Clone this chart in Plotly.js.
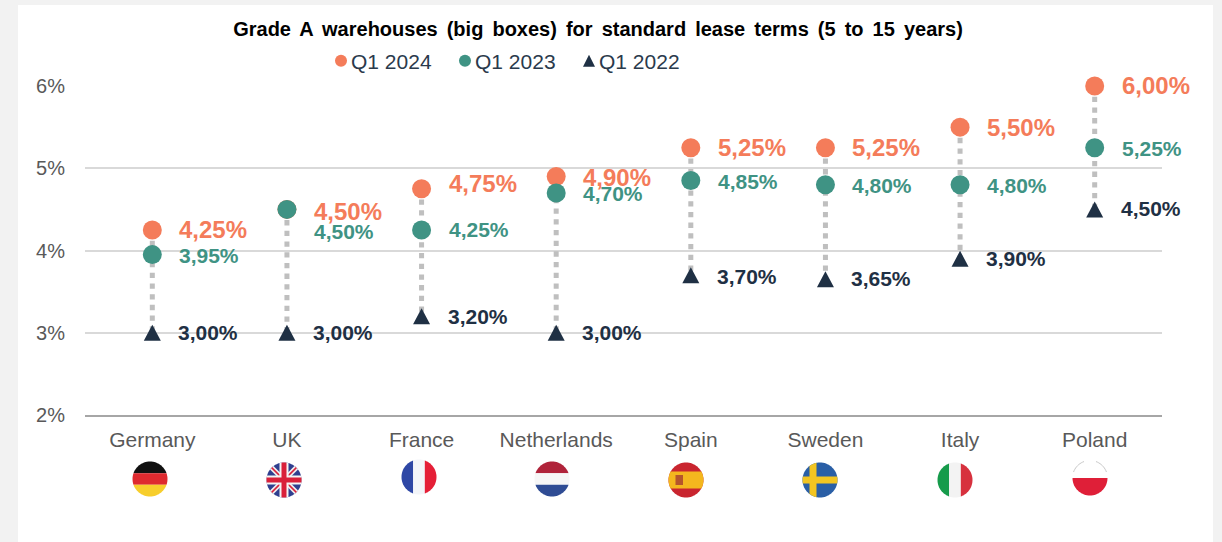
<!DOCTYPE html>
<html>
<head>
<meta charset="utf-8">
<script src="https://cdn.plot.ly/plotly-3.0.1.min.js"></script>
<style>html,body{margin:0;padding:0;background:#f2f2f2;overflow:hidden}</style>
</head>
<body>
<div id="chart" style="width:1222px;height:542px"></div>
<script>
var countries = ['Germany','UK','France','Netherlands','Spain','Sweden','Italy','Poland'];
var q1_2024 = [4.25,4.50,4.75,4.90,5.25,5.25,5.50,6.00];
var q1_2023 = [3.95,4.50,4.25,4.70,4.85,4.80,4.80,5.25];
var q1_2022 = [3.00,3.00,3.20,3.00,3.70,3.65,3.90,4.50];
var yTicks = [2,3,4,5,6];
var title = 'Grade A warehouses (big boxes) for standard lease terms (5 to 15 years)';

var ORANGE='#F47C5A', GREEN='#3F9384', NAVY='#1F3044', TICK='#595959';
var FONT='"Liberation Sans", Arial, sans-serif';
var plotL=85, plotW=1077, plotT=86, plotH=329;

function fmt(v){return v.toFixed(2).replace('.',',')+'%';}

var linkX=[], linkY=[];
countries.forEach(function(c,i){
  linkX.push(c,c,null);
  linkY.push(q1_2024[i],q1_2022[i],null);
});

var traces=[
 {type:'scatter',mode:'lines',x:linkX,y:linkY,showlegend:false,hoverinfo:'skip',cliponaxis:false,connectgaps:false,
  line:{color:'#BFBFBF',width:5,dash:'5.3px,5.4px'}},
 {type:'scatter',mode:'markers',name:'Q1 2024',x:countries,y:q1_2024,cliponaxis:false,
  marker:{symbol:'circle',size:19,color:ORANGE}},
 {type:'scatter',mode:'markers',name:'Q1 2023',x:countries,y:q1_2023,cliponaxis:false,
  marker:{symbol:'circle',size:19,color:GREEN}},
 {type:'scatter',mode:'markers',name:'Q1 2022',x:countries,y:q1_2022,cliponaxis:false,
  marker:{symbol:'triangle-up',size:18,color:NAVY}}
];

// label nudges in pixels relative to each marker
var dy2024=[0,-2,5,-1,0,0,0,1];
var dy2023=[-1,-22,0,-1,-1,-1,-1,-1];
var dy2022=[0,0,0,0,-1,1,0,1];

var annotations=[];
function addLabels(vals,dy,color,size,dx){
  vals.forEach(function(v,i){
    annotations.push({x:countries[i],y:v,xref:'x',yref:'y',text:fmt(v),showarrow:false,
      xanchor:'left',yanchor:'middle',xshift:dx,yshift:dy[i],borderpad:0,
      font:{family:FONT,size:size,color:color,weight:700}});
  });
}
addLabels(q1_2024,dy2024,ORANGE,24,26);
addLabels(q1_2023,dy2023,GREEN,21,26);
addLabels(q1_2022,dy2022,NAVY,21,25);

// circular flags: polygons clipped to a circle, drawn as paper-referenced shapes
var R=17.5;
var flagCx=[150,284,419,552,686,820,955,1090];
var flagCy=[479,480,477,479,480,480,480,478];
function circlePoly(cx,cy,r){
  var p=[];
  for(var k=0;k<72;k++){var a=k/72*2*Math.PI;p.push([cx+r*Math.cos(a),cy+r*Math.sin(a)]);}
  return p;
}
function clipPoly(subject,clipper){
  var out=subject;
  for(var i=0;i<clipper.length;i++){
    var A=clipper[i],B=clipper[(i+1)%clipper.length],input=out;out=[];
    var inside=function(P){return (B[0]-A[0])*(P[1]-A[1])-(B[1]-A[1])*(P[0]-A[0])>=0;};
    for(var j=0;j<input.length;j++){
      var P=input[j],Q=input[(j+1)%input.length],pi=inside(P),qi=inside(Q);
      if(pi)out.push(P);
      if(pi!==qi){
        var d1=(B[0]-A[0])*(P[1]-A[1])-(B[1]-A[1])*(P[0]-A[0]);
        var d2=(B[0]-A[0])*(Q[1]-A[1])-(B[1]-A[1])*(Q[0]-A[0]);
        var t=d1/(d1-d2);
        out.push([P[0]+t*(Q[0]-P[0]),P[1]+t*(Q[1]-P[1])]);
      }
    }
  }
  return out;
}
function fx(x){return (x-plotL)/plotW;}
function fy(y){return 1-(y-plotT)/plotH;}
function pathOf(pts,close){
  return pts.map(function(p,i){return (i?'L':'M')+fx(p[0]).toFixed(5)+','+fy(p[1]).toFixed(5);}).join(' ')+(close?' Z':'');
}
var flagShapes=[];
function poly(i,pts,color){
  var cx=flagCx[i],cy=flagCy[i];
  var abs=pts.map(function(p){return [cx+p[0],cy+p[1]];});
  var c=clipPoly(abs,circlePoly(cx,cy,R));
  if(c.length>2) flagShapes.push({type:'path',xref:'paper',yref:'paper',layer:'above',path:pathOf(c,true),fillcolor:color,line:{width:0}});
}
function rect(i,x0,y0,x1,y1,color){poly(i,[[x0,y0],[x1,y0],[x1,y1],[x0,y1]],color);}
function hBands(i,a,b,c){rect(i,-R,-R,R,-R/3,a);rect(i,-R,-R/3,R,R/3,b);rect(i,-R,R/3,R,R,c);}
function vBands(i,a,b,c){rect(i,-R,-R,-R/3,R,a);rect(i,-R/3,-R,R/3,R,b);rect(i,R/3,-R,R,R,c);}
function diag(i,w,color){
  var s=w/Math.SQRT2;
  poly(i,[[-R-s,-R],[-R,-R-s],[R+s,R],[R,R+s]],color);
  poly(i,[[R+s,-R],[R,-R-s],[-R-s,R],[-R,R+s]],color);
}
hBands(0,'#111111','#DE2A2F','#F7CE2C');
rect(1,-R,-R,R,R,'#2F3F8F');diag(1,5,'#F0F0F0');diag(1,1.5,'#D9203A');
rect(1,-4.5,-R,4.5,R,'#F5F5F5');rect(1,-R,-4.5,R,4.5,'#F5F5F5');
rect(1,-2.5,-R,2.5,R,'#D9203A');rect(1,-R,-2.5,R,2.5,'#D9203A');
vBands(2,'#2E47A5','#F3F5F9','#E51F37');
hBands(3,'#B0233A','#F6F6F6','#2F4C94');
rect(4,-R,-R,R,R,'#C9252F');rect(4,-R,-8.5,R,8.5,'#F4B71E');rect(4,-10.5,-5,-3,5,'#B5552C');
rect(5,-R,-R,R,R,'#2A5FA6');rect(5,-10.5,-R,-3.5,R,'#F3C521');rect(5,-R,-3.5,R,3.5,'#F3C521');
vBands(6,'#169B4B','#F3F3F3','#D7313E');
rect(7,-R,-R,R,0,'#FFFFFF');rect(7,-R,0,R,R,'#DF1F38');
[[200,250],[290,340]].forEach(function(arc){
  var pts=[];
  for(var d=arc[0];d<=arc[1];d+=5){var a=d*Math.PI/180;pts.push([flagCx[7]+R*Math.cos(a),flagCy[7]+R*Math.sin(a)]);}
  flagShapes.push({type:'path',xref:'paper',yref:'paper',layer:'above',path:pathOf(pts,false),line:{color:'#C8C8C8',width:1}});
});

var layout={
  width:1222,height:542,autosize:false,
  margin:{l:plotL,r:1222-plotL-plotW,t:plotT,b:542-plotT-plotH,pad:0,autoexpand:false},
  paper_bgcolor:'#F2F2F2',plot_bgcolor:'rgba(0,0,0,0)',
  font:{family:FONT},
  title:{text:'<b>'+title+'</b>',x:598/1222,xanchor:'center',y:1-29/542,yanchor:'middle',
    font:{family:FONT,size:20,color:'#000000'}},
  showlegend:true,
  legend:{orientation:'h',x:(311-plotL)/plotW,xanchor:'left',y:1+(86-61)/plotH,yanchor:'middle',
    bgcolor:'rgba(0,0,0,0)',itemsizing:'constant',entrywidth:79,entrywidthmode:'pixels',
    font:{family:FONT,size:21,color:'#2A3A4C'},itemclick:false,itemdoubleclick:false},
  xaxis:{type:'category',categoryorder:'array',categoryarray:countries,range:[-0.5,7.5],
    showgrid:false,zeroline:false,showline:true,linecolor:'#A6A6A6',linewidth:2,
    ticks:'outside',ticklen:5,tickcolor:'rgba(0,0,0,0)',
    tickfont:{family:FONT,size:21,color:TICK},fixedrange:true},
  yaxis:{range:[2,6],tickmode:'array',tickvals:yTicks,ticktext:yTicks.map(function(t){return t+'%';}),
    showgrid:true,gridcolor:'#D9D9D9',gridwidth:1.5,zeroline:false,showline:false,
    ticks:'outside',ticklen:15,tickcolor:'rgba(0,0,0,0)',
    tickfont:{family:FONT,size:20,color:TICK},fixedrange:true},
  shapes:[{type:'rect',xref:'paper',yref:'paper',layer:'below',
    x0:fx(18),x1:fx(1213),y0:fy(560),y1:fy(5),fillcolor:'#FFFFFF',line:{width:0}}].concat(flagShapes),
  annotations:annotations,
  hovermode:false
};

Plotly.newPlot('chart',traces,layout,{displayModeBar:false}).then(function(gd){
  function nudge(){
    document.querySelectorAll('#chart .legend .legendsymbols').forEach(function(el){
      el.setAttribute('transform','translate(10,0)');
    });
    var t=document.querySelector('#chart .gtitle');
    if(t) t.style.wordSpacing='3.5px';
    // taller triangles than the built-in symbol, keeping the library's positions
    var tr=document.querySelectorAll('#chart .scatterlayer .trace');
    if(tr[3]) tr[3].querySelectorAll('path.point').forEach(function(p){p.setAttribute('d','M-8.5,8H8.5L0,-8Z');});
    var lg=document.querySelectorAll('#chart .legend .traces');
    if(lg[2]) lg[2].querySelectorAll('.legendpoints path').forEach(function(p){p.setAttribute('d','M-6,6H6L0,-6Z');});
  }
  nudge();
  gd.on('plotly_afterplot',nudge);
});
</script>
</body>
</html>
